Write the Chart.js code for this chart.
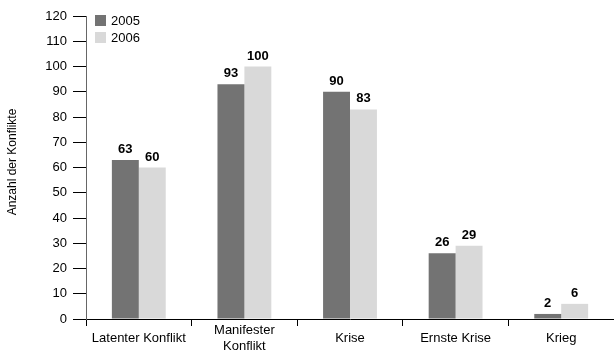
<!DOCTYPE html>
<html>
<head>
<meta charset="utf-8">
<script src="https://cdn.jsdelivr.net/npm/chart.js@4"></script>
<style>
  html, body { margin: 0; padding: 0; background: #fff; }
  #wrap { width: 614px; height: 351px; position: relative; }
</style>
</head>
<body>
<div id="wrap"><canvas id="c" width="614" height="351"></canvas></div>
<script>
// Konfliktintensitäten, Anzahl der Konflikte 2005 und 2006
const categories = ["Latenter Konflikt", ["Manifester", "Konflikt"], "Krise", "Ernste Krise", "Krieg"];
const values2005 = [63, 93, 90, 26, 2];
const values2006 = [60, 100, 83, 29, 6];
const seriesNames = ["2005", "2006"];
const yTicks = [0, 10, 20, 30, 40, 50, 60, 70, 80, 90, 100, 110, 120];
const yTitle = "Anzahl der Konflikte";

const FONT = "'Liberation Sans', Arial, sans-serif";
const colors = ["#737373", "#d9d9d9"];

// Value labels above each bar
const valueLabels = {
  id: "valueLabels",
  afterDatasetsDraw(chart) {
    const ctx = chart.ctx;
    ctx.save();
    ctx.font = "bold 13px " + FONT;
    ctx.fillStyle = "#000";
    ctx.textAlign = "center";
    ctx.textBaseline = "alphabetic";
    chart.data.datasets.forEach((ds, i) => {
      chart.getDatasetMeta(i).data.forEach((bar, j) => {
        ctx.fillText(String(ds.data[j]), bar.x, bar.y - 7);
      });
    });
    ctx.restore();
  }
};

// Category names, vertically centred under each group (multi-line ones included)
const categoryLabels = {
  id: "categoryLabels",
  afterDraw(chart) {
    const ctx = chart.ctx;
    const xs = chart.scales.x;
    const mid = chart.chartArea.bottom + 19;
    const lineH = 16;
    ctx.save();
    ctx.font = "13px " + FONT;
    ctx.fillStyle = "#000";
    ctx.textAlign = "center";
    ctx.textBaseline = "middle";
    chart.data.labels.forEach((lab, i) => {
      const lines = Array.isArray(lab) ? lab : [lab];
      const x = xs.getPixelForValue(i);
      const y0 = mid - (lines.length - 1) * lineH / 2;
      lines.forEach((t, k) => ctx.fillText(t, x, y0 + k * lineH));
    });
    ctx.restore();
  }
};

// Legend in the upper-left corner of the plot, plus the rotated y-axis title
const decorations = {
  id: "decorations",
  afterDraw(chart) {
    const ctx = chart.ctx;
    const area = chart.chartArea;
    ctx.save();
    ctx.font = "13px " + FONT;
    ctx.textBaseline = "middle";
    ctx.textAlign = "left";
    chart.data.datasets.forEach((ds, i) => {
      const y = area.top + i * 17;
      ctx.fillStyle = ds.backgroundColor;
      ctx.fillRect(area.left + 9, y - 1, 11, 11);
      ctx.fillStyle = "#000";
      ctx.fillText(ds.label, area.left + 25, y + 5);
    });
    ctx.translate(13, 162);
    ctx.rotate(-Math.PI / 2);
    ctx.textAlign = "center";
    ctx.font = "12px " + FONT;
    ctx.fillText(yTitle, 0, 0);
    ctx.restore();
  }
};

new Chart(document.getElementById("c"), {
  type: "bar",
  data: {
    labels: categories,
    datasets: [
      { label: seriesNames[0], data: values2005, backgroundColor: colors[0] },
      { label: seriesNames[1], data: values2006, backgroundColor: colors[1] }
    ]
  },
  options: {
    responsive: false,
    animation: false,
    devicePixelRatio: 1,
    layout: { padding: { top: 16, right: 0, left: 0, bottom: 0 } },
    datasets: { bar: { categoryPercentage: 0.51, barPercentage: 1.0 } },
    plugins: { legend: { display: false }, tooltip: { enabled: false } },
    scales: {
      x: {
        offset: true,
        grid: {
          offset: true,
          drawOnChartArea: false,
          drawTicks: true,
          tickLength: 7,
          tickColor: "#000",
          tickWidth: 1
        },
        border: { display: true, color: "#000", width: 1 },
        ticks: { display: false },
        afterFit(scale) { scale.height = 32; }
      },
      y: {
        min: 0,
        max: 120,
        afterBuildTicks(scale) { scale.ticks = yTicks.map(v => ({ value: v })); },
        grid: {
          drawOnChartArea: false,
          drawTicks: true,
          tickLength: 13,
          tickColor: "#000",
          tickWidth: 1
        },
        border: { display: true, color: "#666", width: 1 },
        ticks: {
          color: "#000",
          font: { family: FONT, size: 13 },
          padding: 6
        },
        afterFit(scale) { scale.width = 86; }
      }
    }
  },
  plugins: [valueLabels, categoryLabels, decorations]
});
</script>
</body>
</html>
